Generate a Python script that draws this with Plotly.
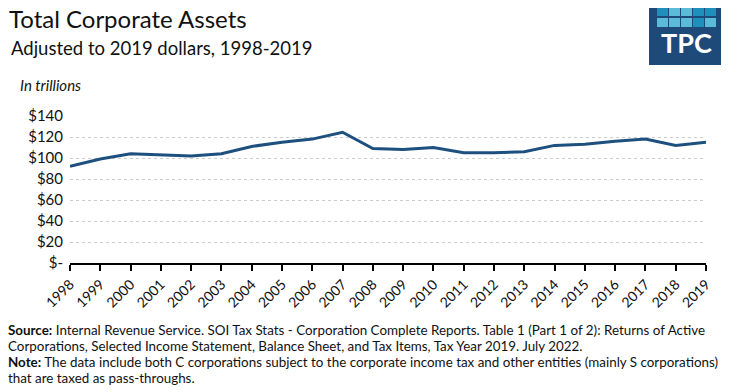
import plotly.graph_objects as go

years = [str(y) for y in range(1998, 2020)]
assets = [92, 99, 104, 103, 102, 104, 111, 115, 118, 124.5, 109, 108, 110, 105, 105, 106, 112, 113, 116, 118, 112, 115]
y_ticks = [0, 20, 40, 60, 80, 100, 120, 140]
y_labels = ["$-", "$20", "$40", "$60", "$80", "$100", "$120", "$140"]
foot_lines = [
    "<b>Source:</b> Internal Revenue Service. SOI Tax Stats - Corporation Complete Reports. Table 1 (Part 1 of 2): Returns of Active",
    "Corporations, Selected Income Statement, Balance Sheet, and Tax Items, Tax Year 2019. July 2022.",
    "<b>Note:</b> The data include both C corporations subject to the corporate income tax and other entities (mainly S corporations)",
    "that are taxed as pass-throughs.",
]

# page offset (body margin) compensation
OFF = 8
W, H = 729, 392
L, T, R, B = 70 - OFF, 116 - OFF, 706 - OFF, 263 - OFF  # plot box in figure px
PW, PH = R - L, B - T

fig = go.Figure()
fig.add_trace(go.Scatter(x=years, y=assets, mode="lines",
                         line=dict(color="#1d4f7f", width=3), hoverinfo="x+y"))

fig.update_layout(
    width=W, height=H,
    margin=dict(l=L, r=W - R, t=T, b=H - B, pad=0),
    paper_bgcolor="white", plot_bgcolor="white",
    showlegend=False,
    font=dict(family="Lato", color="#111111"),
    xaxis=dict(type="category", showgrid=False, showline=True, linecolor="black", linewidth=1.5,
               ticks="outside", ticklen=6, tickcolor="black", tickwidth=1.5,
               tickangle=-45, tickfont=dict(family="Lato", size=14, color="#111111"),
               range=[0, len(years) - 1]),
    yaxis=dict(range=[0, 140], tickvals=y_ticks, ticktext=y_labels, showline=False,
               zeroline=False, showgrid=True, gridcolor="#cccccc", griddash="dot", gridwidth=1,
               tickfont=dict(family="Lato", size=15, color="#111111"), ticks="", ticklabelstandoff=6),
)

def px(x):
    return (x - OFF - L) / PW

def py(y):
    return (B - (y - OFF)) / PH

fig.add_annotation(text="Total Corporate Assets", x=px(7), y=py(19), xref="paper", yref="paper",
                   xanchor="left", yanchor="middle", showarrow=False,
                   font=dict(family="Lato", size=24, color="#111111"))
fig.add_annotation(text="Adjusted to 2019 dollars, 1998-2019", x=px(9), y=py(48), xref="paper", yref="paper",
                   xanchor="left", yanchor="middle", showarrow=False,
                   font=dict(family="Lato", size=18.5, color="#111111"))
fig.add_annotation(text="<i>In trillions</i>", x=px(18), y=py(85), xref="paper", yref="paper",
                   xanchor="left", yanchor="middle", showarrow=False,
                   font=dict(family="Lato", size=15, color="#111111"))

for i, line in enumerate(foot_lines):
    fig.add_annotation(text=line, x=px(6), y=py(330 + 16 * i), xref="paper", yref="paper",
                       xanchor="left", yanchor="middle", align="left", showarrow=False,
                       font=dict(family="Lato", size=13.4, color="#111111"))

# TPC logo
shapes = [dict(type="rect", xref="paper", yref="paper", x0=px(649), x1=px(723), y0=py(65), y1=py(-2),
               fillcolor="#1e4a7a", line=dict(width=0), layer="above")]
cols = [(657, 668), (669, 680), (681, 692), (693, 704), (705, 716)]
row_colors = [["#1f8fbb", "#5bbbd8", "#5bbbd8", "#1f8fbb", "#1f8fbb"],
              ["#5bbbd8", "#5bbbd8", "#5bbbd8", "#1f8fbb", "#5bbbd8"]]
rows = [(7, 16), (18, 27)]
for ri, (r0, r1) in enumerate(rows):
    for ci, (c0, c1) in enumerate(cols):
        shapes.append(dict(type="rect", xref="paper", yref="paper", x0=px(c0), x1=px(c1),
                           y0=py(r1), y1=py(r0), fillcolor=row_colors[ri][ci],
                           line=dict(width=0), layer="above"))
fig.update_layout(shapes=shapes)
fig.add_annotation(text="<b>TPC</b>", x=px(686), y=py(42), xref="paper", yref="paper",
                   xanchor="center", yanchor="middle", showarrow=False,
                   font=dict(family="Lato", size=27, color="white"))

fig.write_html("out.html")
